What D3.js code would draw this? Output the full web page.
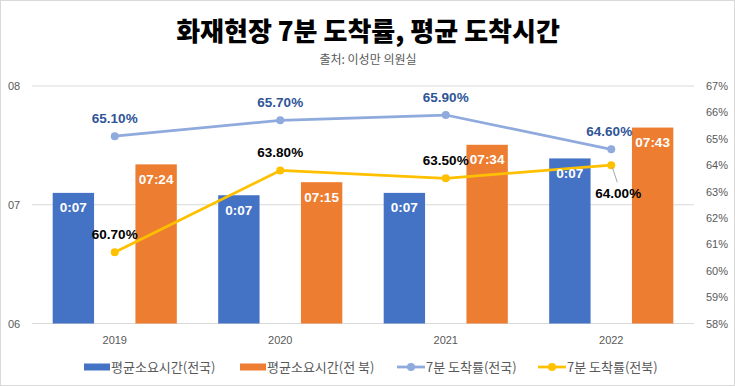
<!DOCTYPE html>
<html>
<head>
<meta charset="utf-8">
<script src="https://cdn.jsdelivr.net/npm/d3@7"></script>
<style>
  body { margin: 0; background: #fff; }
  svg { display: block; }
  .tick text { fill: #595959; font-family: "Liberation Sans", Arial, sans-serif; font-size: 11px; }
</style>
</head>
<body>
<div id="chart"></div>
<script>
var years = ["2019", "2020", "2021", "2022"];
// bar heights in minutes, labels as printed
var avgTimeNational = [7.10, 7.08, 7.10, 7.39];
var avgTimeJeonbuk = [7.34, 7.19, 7.505, 7.65];
var timeLabelNational = ["0:07", "0:07", "0:07", "0:07"];
var timeLabelJeonbuk = ["07:24", "07:15", "07:34", "07:43"];
// 7-minute arrival rate (%)
var rateNational = [65.1, 65.7, 65.9, 64.6];
var rateJeonbuk = [60.7, 63.8, 63.5, 64.0];
var leftTicks = [6, 7, 8];
var leftTickLabels = ["06", "07", "08"];
var rightTicks = [58, 59, 60, 61, 62, 63, 64, 65, 66, 67];
var legendNames = ["평균소요시간(전국)", "평균소요시간(전 북)", "7분 도착률(전국)", "7분 도착률(전북)"];

var width = 735
var height = 386
var margin = { left: 32, top: 86, right: 41, bottom: 62.5 }
var innerW = width - margin.left - margin.right
var innerH = height - margin.top - margin.bottom

var colBlue = "#4472C4", colOrange = "#ED7D31", colLine1 = "#8FAADC", colLine2 = "#FFC000";
var korFont = '"Noto Sans CJK KR", "Noto Sans", sans-serif';
var numFont = '"Liberation Sans", Arial, sans-serif';

var svg = d3.select("#chart").append("svg")
    .attr("width", width)
    .attr("height", height);

svg.append("rect")
    .attr("x", 0.5).attr("y", 0.5)
    .attr("width", width - 1).attr("height", height - 1)
    .attr("fill", "#fff").attr("stroke", "#d9d9d9");

// title
svg.append("text")
    .attr("x", 368).attr("y", 40.5)
    .attr("text-anchor", "middle")
    .style("font-family", korFont).style("font-weight", 900).style("font-size", "26px")
    .attr("fill", "#000")
    .text("화재현장 7분 도착률, 평균 도착시간");

svg.append("text")
    .attr("x", 368).attr("y", 64)
    .attr("text-anchor", "middle")
    .style("font-family", korFont).style("font-size", "12px")
    .attr("fill", "#595959")
    .text("출처: 이성만 의원실");

var g = svg.append("g").attr("transform", "translate(" + margin.left + "," + margin.top + ")");

var x0 = d3.scaleBand().domain(years).range([0, innerW]);
var x1 = d3.scaleBand().domain(["n", "j"]).range([0, x0.bandwidth()]).paddingInner(0.5).paddingOuter(0.25);
var yLeft = d3.scaleLinear().domain([6, 8]).range([innerH, 0]);
var yRight = d3.scaleLinear().domain([58, 67]).range([innerH, 0]);

// gridlines
g.append("g")
    .selectAll("line")
    .data(leftTicks)
    .enter().append("line")
    .attr("x1", 0).attr("x2", innerW)
    .attr("y1", d => yLeft(d)).attr("y2", d => yLeft(d))
    .attr("stroke", "#d9d9d9").attr("stroke-width", 1);

// axes
var gl = g.append("g")
    .call(d3.axisLeft(yLeft).tickValues(leftTicks).tickSize(0).tickPadding(10)
        .tickFormat((d, i) => leftTickLabels[i]));
gl.select(".domain").remove();
gl.selectAll(".tick text").attr("text-anchor", "start").attr("x", -24);

var gr = g.append("g")
    .attr("transform", "translate(" + innerW + ",0)")
    .call(d3.axisRight(yRight).tickValues(rightTicks).tickSize(0).tickPadding(12)
        .tickFormat(d => d + "%"));
gr.select(".domain").remove();

var gx = g.append("g")
    .attr("transform", "translate(0," + innerH + ")")
    .call(d3.axisBottom(x0).tickSize(0).tickPadding(13));
gx.select(".domain").remove();

// bars
var series = [
    { key: "n", vals: avgTimeNational, labels: timeLabelNational, color: colBlue },
    { key: "j", vals: avgTimeJeonbuk, labels: timeLabelJeonbuk, color: colOrange }
];
series.forEach(function(s) {
    g.append("g").selectAll("rect")
        .data(s.vals)
        .enter().append("rect")
        .attr("x", (d, i) => x0(years[i]) + x1(s.key))
        .attr("y", d => yLeft(d))
        .attr("width", x1.bandwidth())
        .attr("height", d => innerH - yLeft(d))
        .attr("fill", s.color);
});

// lines
var lineData = [
    { vals: rateNational, color: colLine1, labelColor: "#2F5597" },
    { vals: rateJeonbuk, color: colLine2, labelColor: "#000" }
];
var line = d3.line()
    .x((d, i) => x0(years[i]) + x0.bandwidth() / 2)
    .y(d => yRight(d));

lineData.forEach(function(s) {
    g.append("path")
        .datum(s.vals)
        .attr("d", line)
        .attr("fill", "none")
        .attr("stroke", s.color)
        .attr("stroke-width", 2.75)
        .attr("stroke-linejoin", "round");
    g.append("g").selectAll("circle")
        .data(s.vals)
        .enter().append("circle")
        .attr("cx", (d, i) => x0(years[i]) + x0.bandwidth() / 2)
        .attr("cy", d => yRight(d))
        .attr("r", 4)
        .attr("fill", s.color);
});

// bar labels
series.forEach(function(s) {
    g.append("g").selectAll("text")
        .data(s.vals)
        .enter().append("text")
        .attr("x", (d, i) => x0(years[i]) + x1(s.key) + x1.bandwidth() / 2)
        .attr("y", d => yLeft(d) + 19.5)
        .attr("text-anchor", "middle")
        .style("font-family", numFont).style("font-weight", "bold").style("font-size", "13.5px")
        .attr("fill", "#fff")
        .text((d, i) => s.labels[i]);
});

// line labels (last 전북 label sits below with a leader line)
g.append("line")
    .attr("x1", x0(years[3]) + x0.bandwidth() / 2 + 1)
    .attr("y1", yRight(rateJeonbuk[3]) + 2)
    .attr("x2", x0(years[3]) + x0.bandwidth() / 2 + 6)
    .attr("y2", yRight(rateJeonbuk[3]) + 17)
    .attr("stroke", "#a6a6a6").attr("stroke-width", 1);

lineData.forEach(function(s, k) {
    g.append("g").selectAll("text")
        .data(s.vals)
        .enter().append("text")
        .attr("x", (d, i) => x0(years[i]) + x0.bandwidth() / 2 + ((k == 1 && i == 3) ? 7 : 0) + ((k == 0 && i == 3) ? -2 : 0))
        .attr("y", (d, i) => (k == 1 && i == 3) ? yRight(d) + 33 : yRight(d) - 13)
        .attr("text-anchor", "middle")
        .style("font-family", numFont).style("font-weight", "bold").style("font-size", "13.5px")
        .attr("fill", s.labelColor)
        .text(d => d.toFixed(2) + "%");
});

// legend
var legendX = [84, 240, 397, 538];
var legendY = 367;
var legend = svg.append("g");
legendNames.forEach(function(name, i) {
    var lg = legend.append("g").attr("transform", "translate(" + legendX[i] + "," + legendY + ")");
    if (i < 2) {
        lg.append("rect").attr("x", 0).attr("y", -3.5).attr("width", 26).attr("height", 7)
            .attr("fill", i == 0 ? colBlue : colOrange);
    } else {
        var c = i == 2 ? colLine1 : colLine2;
        lg.append("line").attr("x1", 0).attr("x2", 28).attr("y1", 0).attr("y2", 0)
            .attr("stroke", c).attr("stroke-width", 2.75);
        lg.append("circle").attr("cx", 14).attr("cy", 0).attr("r", 4).attr("fill", c);
    }
    lg.append("text")
        .attr("x", i < 2 ? 27 : 29).attr("y", 4.5)
        .style("font-family", korFont).style("font-size", "13px")
        .attr("fill", "#595959")
        .text(name);
});
</script>
</body>
</html>
